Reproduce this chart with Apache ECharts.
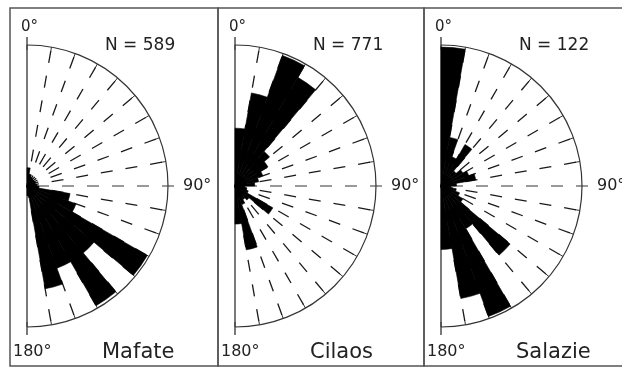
<!DOCTYPE html>
<html><head><meta charset="utf-8">
<script src="https://cdn.jsdelivr.net/npm/echarts@6/dist/echarts.min.js"></script>
<style>html,body{margin:0;padding:0;background:#fff}#c{width:622px;height:369px}</style>
</head><body><div id="c"></div>
<script>
// 10-degree direction bins, 0° (top) to 180° (bottom)
const bins = ['0-10','10-20','20-30','30-40','40-50','50-60','60-70','70-80','80-90',
              '90-100','100-110','110-120','120-130','130-140','140-150','150-160','160-170','170-180'];
// petal length, % of outer circle radius
const mafate  = [13, 8.5, 7, 6.5, 6, 6, 6.5, 6, 7, 8.5, 31, 37, 98.5, 62, 98, 62, 74, 7];
const cilaos  = [41, 67, 98.5, 89, 32, 27, 21, 17, 14, 7, 8.5, 10, 31, 13, 11, 14, 46, 27];
const salazie = [98.5, 35, 22, 34, 14, 18, 21, 25, 11, 7, 11, 14, 18, 64, 35, 98.5, 81, 45];
const sites  = ['Mafate', 'Cilaos', 'Salazie'];
const counts = [589, 771, 122];
const angleLabels = ['0°', '90°', '180°'];

const datasets = [mafate, cilaos, salazie];
const centers = [[27, 186], [235, 186], [441, 186]];
const R = 141;
const FONT = '"DejaVu Sans", sans-serif';
const dash = [12, 13];

const polar = [], angleAxis = [], radiusAxis = [], series = [], graphic = [];
const hidden = {show: false};
centers.forEach((c, i) => {
  const base = i * 4;
  // 0: bars + outer arc with ticks
  polar.push({center: c, radius: R});
  angleAxis.push({polarIndex: base, type: 'category', data: bins, startAngle: 90, endAngle: -90,
    clockwise: true, boundaryGap: true,
    axisLine: {show: true, lineStyle: {color: '#333', width: 1.2}},
    axisTick: {show: true, inside: true, length: 5, interval: 0, lineStyle: {color: '#333', width: 1}},
    axisLabel: hidden, splitLine: hidden});
  radiusAxis.push({polarIndex: base, min: 0, max: 100, show: false});
  series.push({type: 'bar', coordinateSystem: 'polar', polarIndex: base, data: datasets[i],
    barCategoryGap: '0%', barGap: '0%',
    itemStyle: {color: '#000', borderColor: '#000', borderWidth: 0.6}, z: 5, silent: true});
  // 1: dashed rays 10..170 (90 handled separately)
  polar.push({center: c, radius: R});
  const cols = [];
  for (let a = 10; a <= 170; a += 10) cols.push(a === 90 ? 'rgba(0,0,0,0)' : '#1a1a1a');
  angleAxis.push({polarIndex: base + 1, type: 'value', min: 10, max: 170, interval: 10,
    startAngle: 80, endAngle: -80, clockwise: true,
    axisLine: hidden, axisTick: hidden, axisLabel: hidden,
    splitLine: {show: true, lineStyle: {color: cols, width: 1.3, type: dash, dashOffset: 21}}});
  radiusAxis.push({polarIndex: base + 1, min: 0, max: 100, show: false});
  // 2: grey 90° line extending past the circle
  polar.push({center: c, radius: R + 10});
  angleAxis.push({polarIndex: base + 2, type: 'value', min: 0, max: 180, interval: 90,
    startAngle: 90, endAngle: -90, clockwise: true,
    axisLine: hidden, axisTick: hidden, axisLabel: hidden,
    splitLine: {show: true, lineStyle: {color: ['rgba(0,0,0,0)', '#999', 'rgba(0,0,0,0)'], width: 1.8, type: dash, dashOffset: 21}}});
  radiusAxis.push({polarIndex: base + 2, min: 0, max: 100, show: false});
  // 3: solid 0°-180° axis
  polar.push({center: c, radius: R + 8});
  angleAxis.push({polarIndex: base + 3, type: 'value', min: 0, max: 180, interval: 180,
    startAngle: 90, endAngle: -90, clockwise: true,
    axisLine: hidden, axisTick: hidden, axisLabel: hidden,
    splitLine: {show: true, lineStyle: {color: '#333', width: 1.3, type: 'solid'}}});
  radiusAxis.push({polarIndex: base + 3, min: 0, max: 100, show: false});

  const x0 = c[0];
  graphic.push({type: 'text', left: x0 - 6, top: 20, style: {text: angleLabels[0], font: '15px ' + FONT, fill: '#222'}});
  graphic.push({type: 'text', left: x0 + 78, top: 37, style: {text: 'N = ' + counts[i], font: '17px ' + FONT, fill: '#222'}});
  graphic.push({type: 'text', left: x0 + 156, top: 178, style: {text: angleLabels[1], font: '16px ' + FONT, fill: '#222'}});
  graphic.push({type: 'text', left: x0 - 14, top: 344, style: {text: angleLabels[2], font: '16px ' + FONT, fill: '#222'}});
  graphic.push({type: 'text', left: x0 + 75, top: 342, style: {text: sites[i], font: '21px ' + FONT, fill: '#222'}});
});
// panel frames
[[10, 208], [218, 206], [424, 204]].forEach(f => {
  graphic.push({type: 'rect', shape: {x: f[0], y: 8, width: f[1], height: 358},
    style: {fill: 'none', stroke: '#555', lineWidth: 1.5}, z: 10});
});

const chart = echarts.init(document.getElementById('c'), null, {renderer: 'canvas'});
chart.setOption({animation: false, backgroundColor: '#fff', polar, angleAxis, radiusAxis, series, graphic});
</script></body></html>
